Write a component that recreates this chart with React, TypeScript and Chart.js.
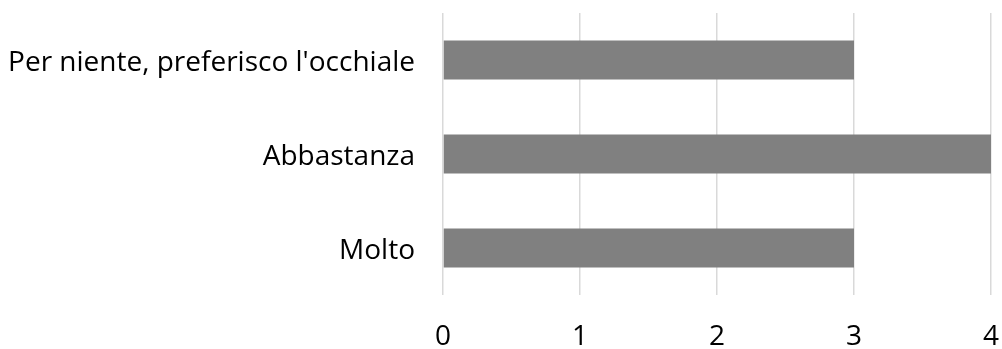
import React, { useEffect, useRef } from "react";
import { Chart, registerables } from "chart.js";

Chart.register(...registerables);

const categories = ["Per niente, preferisco l'occhiale", "Abbastanza", "Molto"];
const values = [3, 4, 3];
const xTicks = [0, 1, 2, 3, 4];

const FONT = "'Open Sans', 'Noto Sans', sans-serif";

function zeroPad(axis: any) {
  axis.paddingTop = 0;
  axis.paddingBottom = 0;
  axis.paddingLeft = 0;
  axis.paddingRight = 0;
}

export default function App() {
  const ref = useRef<HTMLCanvasElement | null>(null);
  useEffect(() => {
    if (!ref.current) return;
    const chart = new Chart(ref.current, {
      type: "bar",
      data: {
        labels: categories,
        datasets: [
          {
            data: values,
            backgroundColor: "#808080",
            borderWidth: 0,
            barPercentage: 0.415,
            categoryPercentage: 1,
          },
        ],
      },
      options: {
        indexAxis: "y",
        animation: false,
        responsive: false,
        maintainAspectRatio: false,
        layout: { padding: { top: 13, right: 11, left: 0, bottom: 0 } },
        plugins: { legend: { display: false }, tooltip: { enabled: false } },
        scales: {
          x: {
            min: 0,
            max: 4,
            afterBuildTicks: (axis: any) => {
              axis.ticks = xTicks.map((v) => ({ value: v }));
            },
            afterFit: (axis: any) => {
              axis.height = 54;
              zeroPad(axis);
            },
            grid: { color: "#d9d9d9", lineWidth: 1.5, drawTicks: false },
            border: { display: false },
            ticks: {
              padding: 25,
              color: "#000000",
              font: { family: FONT, size: 28 },
            },
          },
          y: {
            afterFit: (axis: any) => {
              axis.width = 443;
              zeroPad(axis);
            },
            grid: { display: false, drawTicks: false },
            border: { display: false },
            ticks: {
              padding: 28,
              labelOffset: 3,
              color: "#000000",
              font: { family: FONT, size: 28 },
            },
          },
        },
      },
    });
    return () => chart.destroy();
  }, []);
  return (
    <div style={{ position: "fixed", left: 0, top: 0, width: 1002, height: 349, background: "#fff" }}>
      <canvas ref={ref} width={1002} height={349} style={{ width: 1002, height: 349 }} />
    </div>
  );
}
